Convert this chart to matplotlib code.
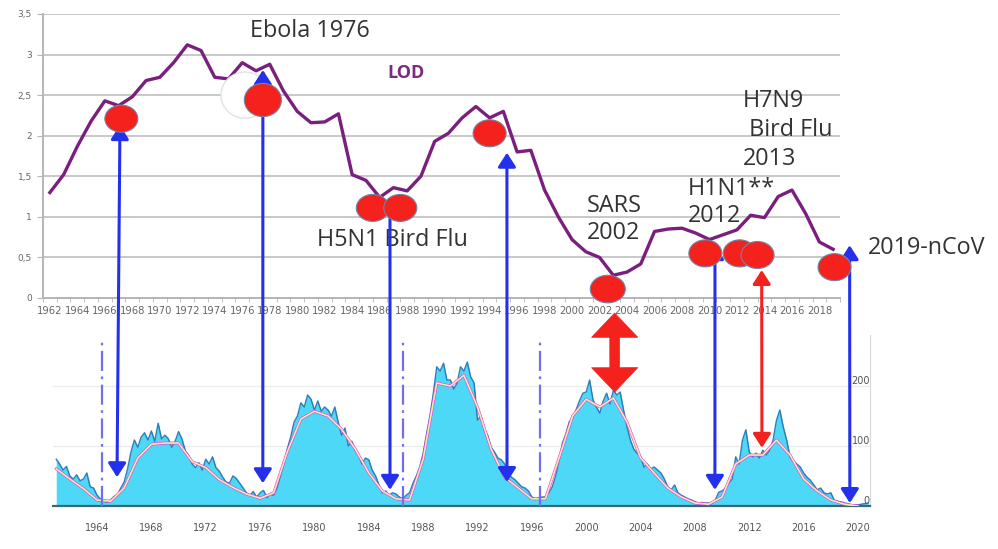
import numpy as np
import matplotlib.pyplot as plt
from matplotlib.patches import Ellipse, ConnectionPatch, ArrowStyle

# --- LOD (top panel) ---
lod_years = list(range(1962, 2020))
lod = [1.3, 1.52, 1.87, 2.18, 2.43, 2.37, 2.48, 2.68, 2.72, 2.9,
       3.12, 3.05, 2.72, 2.7, 2.9, 2.8, 2.88, 2.55, 2.3, 2.16,
       2.17, 2.27, 1.52, 1.45, 1.24, 1.36, 1.32, 1.5, 1.93, 2.03,
       2.22, 2.36, 2.22, 2.3, 1.8, 1.82, 1.33, 1.0, 0.72, 0.57,
       0.5, 0.28, 0.32, 0.42, 0.82, 0.85, 0.86, 0.8, 0.72, 0.78,
       0.84, 1.02, 0.99, 1.25, 1.33, 1.04, 0.69, 0.6]
lod_ticks = [0, 0.5, 1, 1.5, 2, 2.5, 3, 3.5]
lod_tick_labels = ["0", "0,5", "1", "1,5", "2", "2,5", "3", "3,5"]

# outbreak markers on the LOD curve
event_year = [1967.2, 1977.5, 1985.5, 1987.5, 1994.0, 2002.6, 2009.7, 2012.2, 2013.5, 2019.1]
event_lod = [2.21, 2.44, 1.11, 1.11, 2.03, 0.11, 0.55, 0.55, 0.53, 0.38]

# --- sunspot number (bottom panel), quarterly values ---
ssn_q = [78, 70, 60, 66,   50, 45, 52, 42,   45, 55, 32, 30,   18, 12, 8, 6,
         10, 16, 18, 30,   40, 62, 90, 110,  98, 115, 122, 110, 125, 108, 138, 112,
         118, 112, 98, 108, 124, 112, 92, 84, 70, 64, 72, 60,   78, 70, 82, 64,
         58, 48, 40, 38,   50, 46, 38, 30,   22, 18, 24, 15,   22, 26, 14, 20,
         18, 30, 50, 70,   95, 115, 140, 150, 172, 165, 185, 178, 160, 175, 158, 165,
         160, 150, 165, 140, 118, 130, 100, 108, 93, 85, 70, 80, 77, 60, 50, 35,
         22, 25, 18, 22,   20, 15, 12, 18,   22, 38, 50, 65,   88, 120, 150, 188,
         232, 225, 238, 210, 210, 195, 205, 232, 225, 240, 215, 205, 143, 150, 127, 118,
         98, 90, 80, 77,   70, 55, 48, 44,   38, 32, 30, 25,   15, 12, 14, 15,
         15, 22, 32, 50,   75, 105, 120, 140, 148, 160, 175, 188, 190, 210, 177, 165,
         155, 175, 188, 170, 193, 185, 190, 160, 132, 110, 95, 88, 82, 65, 70, 62,
         65, 60, 55, 45,   32, 27, 35, 22,   18, 15, 12, 10,   7, 5, 6, 5,
         5, 4, 10, 23,     25, 30, 38, 45,   82, 70, 110, 127, 90, 82, 88, 80,
         93, 85, 93, 110,  143, 160, 132, 110, 82, 75, 70, 65,  55, 48, 43, 35,
         27, 30, 22, 20,   22, 10, 8, 7,     5, 4, 2, 2,       2, 3, 4, 5]
ssn_q_years = np.arange(1961, 2021, 0.25)

ssn_years = list(range(1961, 2021))
ssn_smooth = [62, 45, 29, 10, 8, 30, 80, 103, 105, 105,
              74, 64, 44, 31, 20, 13, 22, 90, 145, 158,
              150, 128, 95, 55, 25, 12, 10, 78, 205, 200,
              218, 165, 95, 48, 30, 12, 12, 80, 150, 178,
              165, 180, 140, 80, 55, 30, 15, 5, 3, 15,
              70, 85, 85, 110, 85, 45, 25, 10, 3, 0]
ssn_ticks = list(range(1964, 2021, 4))
minima_years = [1964.4, 1986.5, 1996.6]

# arrows linking LOD events to the solar cycle
arrow_top_year = [1967.1, 1977.5, 1986.75, 1995.26, 2010.4, 2020.2]
arrow_top_val = [2.13, 2.81, 1.21, 1.79, 0.65, 0.65]
arrow_bot_year = [1965.47, 1976.2, 1985.56, 1994.17, 2009.47, 2019.4]
arrow_bot_val = [48, 38, 27, 40, 27, 5]

plt.rcParams["font.family"] = ["DejaVu Sans"]

fig = plt.figure(figsize=(9.98, 5.49), dpi=100)
top_rect = [0.0431, 0.4572, 0.7986, 0.5173]
ax_bot = fig.add_axes([0.0531, 0.0783, 0.8186, 0.3115])
ax_top = fig.add_axes(top_rect)
ax_marks = fig.add_axes(top_rect)   # red markers sit above the arrows
ax_bot.set_zorder(1)
ax_top.set_zorder(2)
ax_marks.set_zorder(4)
ax_top.patch.set_visible(False)
ax_marks.set_axis_off()

# ---------- bottom: solar cycle ----------
ax_bot.fill_between(ssn_q_years, ssn_q, color="#4dd8f7", lw=0, zorder=2)
ax_bot.plot(ssn_q_years, ssn_q, color="#2bbbee", lw=0.7, zorder=2)
ax_bot.plot(ssn_q_years, ssn_q, color="#1b3f86", lw=1.1, alpha=0.5, zorder=3)
ax_bot.plot(ssn_years, ssn_smooth, color="#e23cd6", lw=2.0, zorder=4)
ax_bot.plot(ssn_years, ssn_smooth, color="#f2e9b5", lw=1.2, zorder=5)
for x in minima_years:
    ax_bot.axvline(x, ymin=0.0, ymax=0.99, color="#6f6ff2", lw=1.6,
                   linestyle=(0, (9, 2.5, 1.2, 2.5)), zorder=6)
ax_bot.set_xlim(1960.76, 2020.88)
ax_bot.set_ylim(0, 285)
ax_bot.set_xticks(ssn_ticks)
ax_bot.set_xticklabels([str(t) for t in ssn_ticks], fontsize=7, color="#555555",
                       family=["Liberation Sans Narrow", "DejaVu Sans"])
ax_bot.tick_params(axis="x", length=0, pad=12)
ax_bot.yaxis.tick_right()
ax_bot.set_yticks([0, 100, 200])
ax_bot.tick_params(axis="y", length=0, pad=0, labelsize=7, labelcolor="#555555")
for t in ax_bot.get_yticklabels():
    t.set_ha("right")
    t.set_va("bottom")
ax_bot.grid(axis="y", color="#ececec", lw=1.0, zorder=0)
for s in ["left", "top"]:
    ax_bot.spines[s].set_visible(False)
ax_bot.spines["right"].set_color("#d8d8d8")
ax_bot.spines["bottom"].set_color("#3b6870")
ax_bot.spines["bottom"].set_linewidth(1.6)

# ---------- top: LOD ----------
ax_top.plot(lod_years, lod, color="#7a1f7e", lw=2.4, zorder=3)
for a in (ax_top, ax_marks):
    a.set_xlim(1961.5, 2019.5)
    a.set_ylim(0, 3.5)
ax_top.set_yticks(lod_ticks)
ax_top.set_yticklabels(lod_tick_labels, fontsize=6.5, color="#666666")
ax_top.set_xticks(lod_years[::2])
ax_top.set_xticklabels([str(y) for y in lod_years[::2]], fontsize=7.2, color="#666666")
ax_top.set_xticks([y - 0.5 for y in lod_years] + [2019.5], minor=True)
ax_top.tick_params(axis="x", which="major", length=0, pad=6)
ax_top.tick_params(axis="x", which="minor", length=3, color="#b5b5b5")
ax_top.tick_params(axis="y", length=4, color="#b5b5b5", pad=4)
ax_top.grid(axis="y", color="#c8c8c8", lw=1.4, zorder=0)
for s in ["right", "top"]:
    ax_top.spines[s].set_visible(False)
for s in ["left", "bottom"]:
    ax_top.spines[s].set_color("#b5b5b5")
    ax_top.spines[s].set_linewidth(1.4)

# white halo behind the Ebola marker (covers the LOD line, under the arrow)
ax_top.add_patch(Ellipse((1976.2, 2.5), 3.5, 0.57, facecolor="white",
                         edgecolor="#e2e2e2", lw=1.0, zorder=4, clip_on=False))
big = {1977.5: (2.7, 0.41), 2002.6: (2.55, 0.34)}
for x, y in zip(event_year, event_lod):
    w, h = big.get(x, (2.4, 0.333))
    ax_marks.add_patch(Ellipse((x, y), w, h, facecolor="#f5211c", edgecolor="#6f86a8",
                               lw=0.8, zorder=5, clip_on=False))

# ---------- arrows ----------
thin = ArrowStyle("<|-|>", head_length=0.7, head_width=0.45)
for ty, tv, by, bv in zip(arrow_top_year, arrow_top_val, arrow_bot_year, arrow_bot_val):
    con = ConnectionPatch(xyA=(ty, tv), coordsA=ax_top.transData,
                          xyB=(by, bv), coordsB=ax_bot.transData,
                          arrowstyle=thin, mutation_scale=12, color="#2430ec",
                          lw=2.2, zorder=3)
    fig.add_artist(con)

con = ConnectionPatch(xyA=(2013.8, 0.345), coordsA=ax_top.transData,
                      xyB=(2012.93, 97), coordsB=ax_bot.transData,
                      arrowstyle=thin, mutation_scale=12, color="#f2231e",
                      lw=2.2, zorder=3)
fig.add_artist(con)

# fat red double arrow under SARS: two filled arrows from a common middle
fat = ArrowStyle("simple", head_length=0.5, head_width=0.95, tail_width=0.2)
mid = (2003.1, -0.666)
for xyB, cB in [((2003.1, -0.185), ax_top.transData), ((2002.1, 190), ax_bot.transData)]:
    con = ConnectionPatch(xyA=mid, coordsA=ax_top.transData, xyB=xyB, coordsB=cB,
                          arrowstyle=fat, mutation_scale=35, facecolor="#f5211c",
                          edgecolor="#f5211c", lw=0.5, zorder=3)
    fig.add_artist(con)

# ---------- labels ----------
lab = dict(fontsize=16.8, color="#333333", family=["Open Sans", "DejaVu Sans"],
           va="center", ha="left", zorder=10)
ax_top.text(1976.56, 3.29, "Ebola 1976", **lab)
ax_top.text(1981.43, 0.715, "H5N1 Bird Flu", **lab)
ax_top.text(2001.08, 0.968, "SARS\n2002", linespacing=1.15, **lab)
ax_top.text(2008.43, 1.18, "H1N1**\n2012", linespacing=1.15, **lab)
ax_top.text(2012.44, 2.07, "H7N9\n Bird Flu\n2013", linespacing=1.3, **lab)
ax_top.text(2021.5, 0.617, "2019-nCoV", **lab)
ax_top.text(1986.53, 2.77, "LOD", fontsize=13, fontweight="bold", color="#7b2a80",
            family=["Open Sans", "DejaVu Sans"], va="center", ha="left")

fig.savefig("out.png", dpi=100)
